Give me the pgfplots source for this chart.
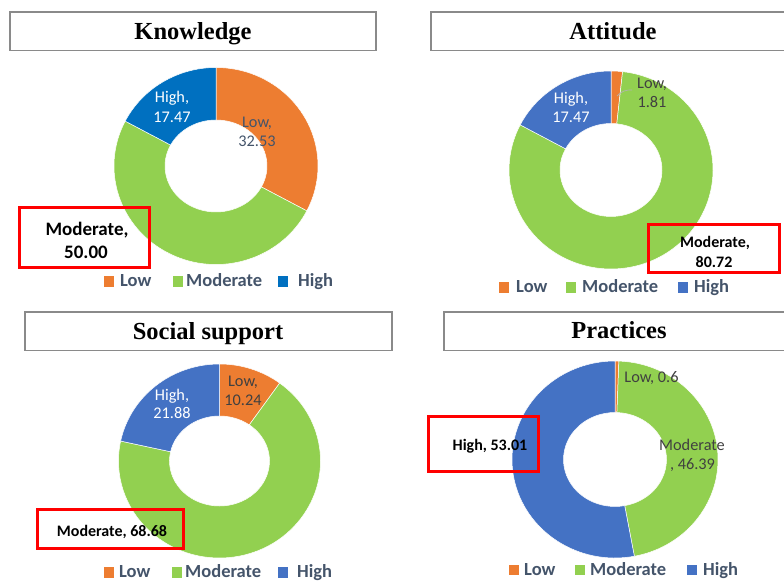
\documentclass[border=0pt]{standalone}
\usepackage{pgfplots}
\pgfplotsset{compat=1.18}
\usepackage{pgfplotstable}
\usepackage{fontspec}
\setmainfont{Liberation Serif}
\newfontfamily\calib{Carlito}

\definecolor{cLow}{HTML}{ED7D31}
\definecolor{cMod}{HTML}{92D050}
\definecolor{cHighK}{HTML}{0070C0}
\definecolor{cHigh}{HTML}{4472C4}
\definecolor{legtxt}{HTML}{44546A}
\definecolor{boxgray}{HTML}{8A8A8A}
\definecolor{dark}{HTML}{404040}
\definecolor{slate}{HTML}{44546A}

\pgfplotstableread{
level value color
Low 32.53 cLow
Moderate 50.00 cMod
High 17.47 cHighK
}\knowtab
\pgfplotstableread{
level value color
Low 1.81 cLow
Moderate 80.72 cMod
High 17.47 cHigh
}\atttab
\pgfplotstableread{
level value color
Low 10.24 cLow
Moderate 68.68 cMod
High 21.88 cHigh
}\soctab
\pgfplotstableread{
level value color
Low 0.6 cLow
Moderate 46.39 cMod
High 53.01 cHigh
}\practab

% #1 table, #2 outer x radius, #3 outer y radius, #4 inner x radius, #5 inner y radius
\newcommand\donut[5]{%
  \pgfplotstablegetrowsof{#1}%
  \pgfmathtruncatemacro\nlast{\pgfplotsretval-1}%
  \def\tot{0}%
  \pgfplotsforeachungrouped \i in {0,...,\nlast}{%
    \pgfplotstablegetelem{\i}{value}\of{#1}%
    \pgfmathsetmacro\tot{\tot+\pgfplotsretval}%
  }%
  \def\cum{0}%
  \pgfplotsforeachungrouped \i in {0,...,\nlast}{%
    \pgfplotstablegetelem{\i}{value}\of{#1}\let\val\pgfplotsretval
    \pgfplotstablegetelem{\i}{color}\of{#1}\let\col\pgfplotsretval
    \pgfmathsetmacro\aone{90-360*(\cum/\tot)}%
    \pgfmathsetmacro\cum{\cum+\val}%
    \pgfmathsetmacro\atwo{90-360*(\cum/\tot)}%
    \edef\temp{\noexpand\fill[\col, draw=white, line width=0.5pt]
      ([shift={(\aone:#2 and #3)}]axis cs:0,0)
      arc[start angle=\aone, end angle=\atwo, x radius=#2, y radius=#3]
      -- ([shift={(\atwo:#4 and #5)}]axis cs:0,0)
      arc[start angle=\atwo, end angle=\aone, x radius=#4, y radius=#5] -- cycle;}%
    \temp
  }%
}

\pgfplotsset{donutaxis/.style={anchor=center, scale only axis, hide axis,
  xmin=-1, xmax=1, ymin=-1, ymax=1, clip=false}}

\newcommand\titlef{\fontsize{24.5}{29}\selectfont\bfseries}
\newcommand\labf{\calib\fontsize{16.3}{19}\selectfont}
\newcommand\boxf{\calib\bfseries\fontsize{16}{19}\selectfont}
\newcommand\boxfk{\calib\bfseries\fontsize{19}{23}\selectfont}
\newcommand\legf{\calib\bfseries\fontsize{18.5}{22}\selectfont}

% x, baseline (pixel from top), text, colour, font
\newcommand\tx[5]{\node[anchor=base, inner sep=0pt, text=#4, font=#5] at (#1,583-#2) {#3};}
\newcommand\legsq[3]{\fill[#3] (#1,583-#2) rectangle ++(10,10.5);}
\newcommand\legtx[3]{\node[anchor=base west, inner sep=0pt, text=legtxt, font=\legf] at (#1,583-#2) {#3};}

\begin{document}
\begin{tikzpicture}[x=1pt,y=1pt]
\useasboundingbox (0,0) rectangle (784,583);

% ---------- title boxes ----------
\draw[boxgray, line width=1.6pt, fill=white] (10,583-12) rectangle (376,583-50.5);
\draw[boxgray, line width=1.6pt, fill=white] (431,583-12) rectangle (800,583-50.5);
\draw[boxgray, line width=1.6pt, fill=white] (25,583-312) rectangle (392,583-350.5);
\draw[boxgray, line width=1.6pt, fill=white] (444,583-312) rectangle (800,583-350.5);
\tx{193}{40}{Knowledge}{black}{\titlef}
\tx{613}{40}{Attitude}{black}{\titlef}
\tx{208}{340}{Social support}{black}{\titlef}
\tx{619}{339}{Practices}{black}{\titlef}

% ---------- donuts ----------
\begin{axis}[donutaxis, at={(216pt,417pt)}, width=204pt, height=197pt]
\donut{\knowtab}{102pt}{98.5pt}{51pt}{46pt}
\end{axis}
\begin{axis}[donutaxis, at={(611pt,413pt)}, width=204pt, height=198pt]
\donut{\atttab}{102pt}{99pt}{51pt}{46.5pt}
\end{axis}
\begin{axis}[donutaxis, at={(219.5pt,122pt)}, width=202pt, height=194pt]
\donut{\soctab}{101pt}{97pt}{50pt}{45pt}
\end{axis}
\begin{axis}[donutaxis, at={(615pt,123.5pt)}, width=206pt, height=197pt]
\donut{\practab}{103pt}{98.5pt}{51.5pt}{47pt}
\end{axis}

% ---------- data labels ----------
% Knowledge
\tx{172}{103}{High,}{white}{\labf}
\tx{172}{123}{17.47}{white}{\labf}
\tx{257}{128}{Low,}{slate}{\labf}
\tx{257}{147}{32.53}{slate}{\labf}
\draw[red, line width=3pt] (19,583-208) rectangle (149,583-268);
\tx{87}{236}{Moderate,}{black}{\boxfk}
\tx{86}{259}{50.00}{black}{\boxfk}
% Attitude
\tx{571}{104}{High,}{white}{\labf}
\tx{571}{122.5}{17.47}{white}{\labf}
\tx{652}{89}{Low,}{dark}{\labf}
\tx{652}{108}{1.81}{dark}{\labf}
\draw[gray!60, line width=0.7pt] (617,583-96) to[bend left=25] (632,583-90);
\draw[red, line width=3pt] (648,583-225) rectangle (779,583-273);
\tx{715}{248}{Moderate,}{black}{\boxf}
\tx{714}{268}{80.72}{black}{\boxf}
% Social support
\tx{172}{401}{High,}{white}{\labf}
\tx{172}{419}{21.88}{white}{\labf}
\tx{243}{387}{Low,}{dark}{\labf}
\tx{243}{406}{10.24}{dark}{\labf}
\draw[red, line width=3pt] (37,583-510) rectangle (183,583-549);
\tx{112}{537}{Moderate, 68.68}{black}{\boxf}
% Practices
\tx{651.5}{383}{Low, 0.6}{dark}{\labf}
\tx{692}{451}{Moderate}{dark}{\labf}
\tx{692.5}{470}{, 46.39}{dark}{\labf}
\draw[red, line width=3pt] (428,583-417) rectangle (538,583-472);
\tx{490}{451}{High, 53.01}{black}{\boxf}

% ---------- legends ----------
\legsq{104}{287}{cLow}\legtx{120}{287}{Low}
\legsq{172.5}{287}{cMod}\legtx{186}{287}{Moderate}
\legsq{278}{287}{cHighK}\legtx{298}{287}{High}

\legsq{499}{293}{cLow}\legtx{516}{293}{Low}
\legsq{566}{293}{cMod}\legtx{582}{293}{Moderate}
\legsq{678}{293}{cHigh}\legtx{694}{293}{High}

\legsq{104}{578}{cLow}\legtx{119}{578}{Low}
\legsq{171.5}{578}{cMod}\legtx{185}{578}{Moderate}
\legsq{278}{578}{cHigh}\legtx{297}{578}{High}

\legsq{509}{575.5}{cLow}\legtx{524}{575.5}{Low}
\legsq{575}{575.5}{cMod}\legtx{590}{575.5}{Moderate}
\legsq{687}{575.5}{cHigh}\legtx{703}{575.5}{High}
\end{tikzpicture}
\end{document}
